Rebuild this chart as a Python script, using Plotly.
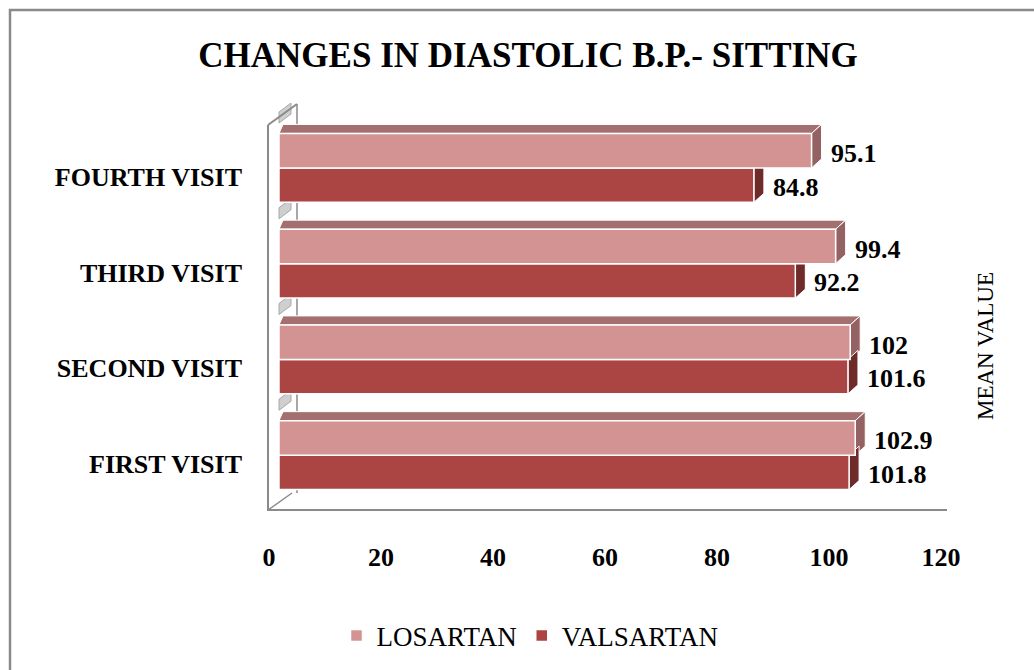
import plotly.graph_objects as go

# ---- data ----
categories = ["FIRST VISIT", "SECOND VISIT", "THIRD VISIT", "FOURTH VISIT"]
losartan = [102.9, 102, 99.4, 95.1]
valsartan = [101.8, 101.6, 92.2, 84.8]
x_ticks = [0, 20, 40, 60, 80, 100, 120]

# ---- layout geometry (pixels) ----
W, H = 1034, 670
PL, PR, PT, PB = 279, 951, 120, 503  # plot area edges
XMAX = 120
YMIN, YMAX = -0.5, len(categories) - 0.5
PXU = (PR - PL) / XMAX            # px per x unit
PYU = (PB - PT) / (YMAX - YMIN)   # px per y unit
BW = 0.36                         # bar thickness in category units
DXP, DYP = 10, 9                  # 3D depth offset (px)
DX, DY = DXP / PXU, DYP / PYU

FONT = "Liberation Serif"
C_LOS, C_VAL = "#D49393", "#AA4543"
C_LOS_TOP, C_LOS_SIDE = "#A46F6F", "#946262"
C_VAL_SIDE = "#6E2B2A"
GRAY = "#8A8A8A"

ypos = list(range(len(categories)))

fig = go.Figure()
fig.add_trace(go.Bar(
    name="VALSARTAN", y=ypos, x=valsartan, orientation="h",
    width=BW, offset=-BW, marker=dict(color=C_VAL, line=dict(color="white", width=1.5)),
    legendrank=2, hoverinfo="x"))
fig.add_trace(go.Bar(
    name="LOSARTAN", y=ypos, x=losartan, orientation="h",
    width=BW, offset=0, marker=dict(color=C_LOS, line=dict(color="white", width=1.5)),
    legendrank=1, hoverinfo="x"))

shapes = []

def poly(pts):
    return "M " + " L ".join(f"{x},{y}" for x, y in pts) + " Z"

for yc, lv, vv in zip(ypos, losartan, valsartan):
    top = yc + BW
    # losartan top face
    shapes.append(dict(type="path", xref="x", yref="y", layer="below",
                       path=poly([(0, top), (DX * 0.4, top + DY), (lv + DX, top + DY), (lv, top)]),
                       fillcolor=C_LOS_TOP, line=dict(color="white", width=1)))
    # losartan side face
    shapes.append(dict(type="path", xref="x", yref="y", layer="below",
                       path=poly([(lv, yc), (lv, top), (lv + DX, top + DY), (lv + DX, yc + DY)]),
                       fillcolor=C_LOS_SIDE, line=dict(color="white", width=1)))
    # valsartan side face
    shapes.append(dict(type="path", xref="x", yref="y", layer="below",
                       path=poly([(vv, yc - BW), (vv, yc), (vv + DX, yc + DY), (vv + DX, yc - BW + DY)]),
                       fillcolor=C_VAL_SIDE, line=dict(color="white", width=1)))

# wall / floor lines (paper coords from pixel positions)
def PX(px):
    return (px - PL) / (PR - PL)

def PY(py):
    return (PB - py) / (PB - PT)

def pline(x0, y0, x1, y1, w=2, color=GRAY, layer="above"):
    shapes.append(dict(type="line", xref="paper", yref="paper", layer=layer,
                       x0=PX(x0), y0=PY(y0), x1=PX(x1), y1=PY(y1),
                       line=dict(color=color, width=w)))

# small gray wall pieces at category boundaries
for k in range(len(categories)):
    b = k + 0.5
    yb = PB - (b - YMIN) * PYU
    shapes.append(dict(type="path", xref="paper", yref="paper", layer="below",
                       path=poly([(PX(279), PY(yb + 3)), (PX(279), PY(yb - 8)),
                                  (PX(291), PY(yb - 17)), (PX(291), PY(yb - 6))]),
                       fillcolor="#CFCFCF", line=dict(color="#A8A8A8", width=1)))

pline(268, 125, 268, 511)          # wall front edge
pline(268, 125, 297, 104)          # wall top diagonal
pline(297, 104, 297, 493, w=1.5, layer="below")  # wall back edge
pline(268, 510, 947, 510)          # floor front edge
pline(268, 510, 292, 493, w=1.5)   # floor diagonal
# outer border
shapes.append(dict(type="rect", xref="paper", yref="paper", layer="below",
                   x0=PX(10), y0=PY(10), x1=PX(1045), y1=PY(690),
                   line=dict(color=GRAY, width=2.5), fillcolor="rgba(0,0,0,0)"))

LBL = dict(family=FONT, size=26, color="black", weight="bold")
annotations = []
for yc, lv, vv in zip(ypos, losartan, valsartan):
    annotations.append(dict(x=lv, y=yc + BW / 2, xref="x", yref="y", text=f"{lv:g}",
                            showarrow=False, xanchor="left", yanchor="middle",
                            xshift=17, yshift=-3, font=LBL))
    annotations.append(dict(x=vv, y=yc - BW / 2, xref="x", yref="y", text=f"{vv:g}",
                            showarrow=False, xanchor="left", yanchor="middle",
                            xshift=17, yshift=-2, font=LBL))

annotations.append(dict(x=PX(985), y=PY(346), xref="paper", yref="paper", text="MEAN VALUE",
                        textangle=-90, showarrow=False, xanchor="center", yanchor="middle",
                        font=dict(family=FONT, size=23, color="black")))

fig.update_layout(
    width=W, height=H,
    margin=dict(l=PL, r=W - PR, t=PT, b=H - PB, pad=0),
    paper_bgcolor="white", plot_bgcolor="rgba(0,0,0,0)",
    barmode="overlay",
    title=dict(text="<b>CHANGES IN DIASTOLIC B.P.- SITTING</b>", xref="container", x=528 / W,
               xanchor="center", yref="container", y=1 - 55 / H, yanchor="middle",
               font=dict(family=FONT, size=35, color="black")),
    xaxis=dict(range=[0, XMAX], tickvals=x_ticks, ticktext=[str(t) for t in x_ticks],
               showgrid=False, zeroline=False, showline=False, ticks="",
               ticklabelshift=-10, ticklabelstandoff=36,
               tickfont=dict(family=FONT, size=26, color="black", weight="bold")),
    yaxis=dict(range=[YMIN, YMAX], tickvals=ypos, ticktext=categories,
               showgrid=False, zeroline=False, showline=False, ticks="",
               ticklabelshift=9, ticklabelstandoff=36,
               tickfont=dict(family=FONT, size=26, color="black", weight="bold")),
    legend=dict(orientation="h", xref="container", yref="container", x=530 / W, y=1 - 636 / H,
                xanchor="center", yanchor="middle",
                font=dict(family=FONT, size=27, color="black")),
    shapes=shapes, annotations=annotations,
    showlegend=True,
)

fig.write_html("out.html", config={"displayModeBar": False},
               post_script="document.body.style.margin='0';")
